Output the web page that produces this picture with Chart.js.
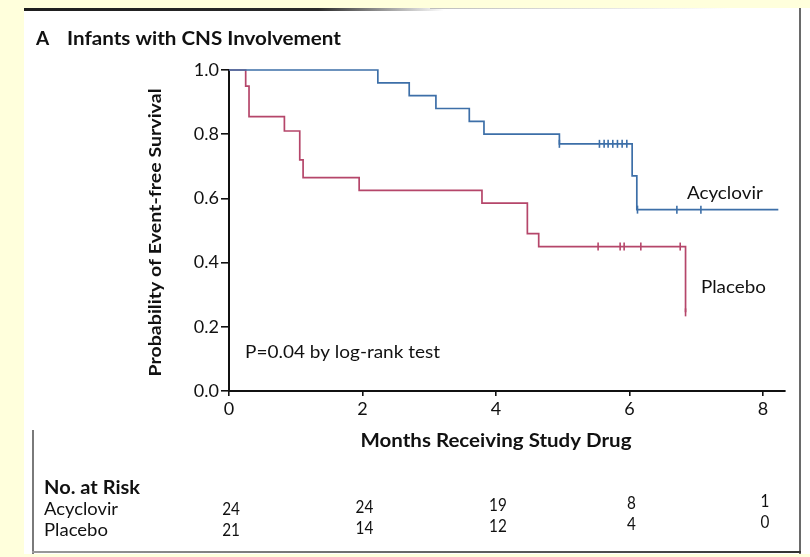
<!DOCTYPE html>
<html>
<head>
<meta charset="utf-8">
<script src="https://cdn.jsdelivr.net/npm/chart.js@4.4.1/dist/chart.umd.min.js"></script>
<style>
  html, body { margin: 0; padding: 0; width: 810px; height: 557px; overflow: hidden; background: #ffffdc; }
  #panel { position: absolute; left: 24px; top: 8px; width: 786px; height: 546px; background: #ffffff; }
  .rule { position: absolute; }
  #wrap { position: absolute; left: 0; top: 0; width: 810px; height: 557px; }
</style>
</head>
<body>
<div id="panel"></div>
<div class="rule" style="left:24px;top:8px;width:420px;height:3px;background:linear-gradient(to right,#1e1e1e 0%,#2a2a2a 70%,rgba(80,80,80,0) 100%)"></div>
<div class="rule" style="left:430px;top:8px;width:300px;height:1px;background:linear-gradient(to right,#bdbdbd,rgba(210,210,210,0))"></div>
<div class="rule" style="left:799px;top:8px;width:2px;height:546px;background:#6a6a6a"></div>
<div class="rule" style="left:32px;top:430px;width:2px;height:124px;background:#7a7a7a"></div>
<div class="rule" style="left:32px;top:551px;width:769px;height:2px;background:linear-gradient(to right,#9a9a9a,#333)"></div>
<div id="wrap"><canvas id="c" width="810" height="557"></canvas></div>

<script>
// Kaplan-Meier estimates: event times (months) and survival after each event
const acycTime = [0, 2.23, 2.70, 3.10, 3.60, 3.82, 4.95, 6.04, 6.11, 8.23];
const acycSurv = [1.0, 0.96, 0.92, 0.88, 0.84, 0.80, 0.77, 0.67, 0.565, 0.565];
const placTime = [0, 0.25, 0.30, 0.83, 1.06, 1.11, 1.95, 3.79, 4.47, 4.64, 6.84];
const placSurv = [1.0, 0.95, 0.855, 0.81, 0.72, 0.665, 0.625, 0.585, 0.49, 0.45, 0.245];

// censored observations (months)
const acycCensor = [4.95, 5.55, 5.62, 5.68, 5.75, 5.82, 5.89, 5.96, 6.12, 6.71, 7.07];
const placCensor = [5.53, 5.86, 5.92, 6.17, 6.76, 6.84];

// axis ticks
const xTicks = [0, 2, 4, 6, 8];
const yTicks = [0, 0.2, 0.4, 0.6, 0.8, 1.0];

// number at risk table
const riskMonths = [0, 2, 4, 6, 8];
const riskAcyc = [24, 24, 19, 8, 1];
const riskPlac = [21, 14, 12, 4, 0];

const BLUE = '#3d6fa8';
const RED = '#b5466a';
const INK = '#111111';
const FONT = 'Lato, "Open Sans", sans-serif';

// survival level of a step curve at time t
function stepValue(times, surv, t) {
  let v = surv[0];
  for (let i = 0; i < times.length; i++) if (times[i] <= t + 1e-9) v = surv[i];
  return v;
}

function curve(times, surv) { return times.map((t, i) => ({ x: t, y: surv[i] })); }
function marks(times, surv, cens) { return cens.map(t => ({ x: t, y: stepValue(times, surv, t) })); }

// text squeezed/stretched to a given advance width
function fitText(ctx, text, x, y, width, font, rot) {
  ctx.save();
  ctx.font = font;
  const w = ctx.measureText(text).width;
  ctx.translate(x, y);
  if (rot) ctx.rotate(rot);
  ctx.scale(width ? width / w : 1, 1);
  ctx.fillText(text, 0, 0);
  ctx.restore();
}

const textPlugin = {
  id: 'texts',
  afterDraw(chart) {
    const { ctx, scales: { x, y } } = chart;
    ctx.save();
    ctx.fillStyle = INK;
    ctx.textBaseline = 'alphabetic';

    // panel heading
    ctx.textAlign = 'left';
    fitText(ctx, 'A', 36, 45, 0, 'bold 19px ' + FONT);
    fitText(ctx, 'Infants with CNS Involvement', 67, 45, 274, 'bold 19px ' + FONT);

    // axis titles
    ctx.textAlign = 'center';
    fitText(ctx, 'Probability of Event-free Survival', 161, (y.top + y.bottom) / 2 + 2, 288, 'bold 17px ' + FONT, -Math.PI / 2);
    fitText(ctx, 'Months Receiving Study Drug', (x.getPixelForValue(0) + x.getPixelForValue(8)) / 2, 447, 271, 'bold 18px ' + FONT);

    // in-plot annotations
    ctx.textAlign = 'left';
    fitText(ctx, 'P=0.04 by log-rank test', x.getPixelForValue(0.24), y.getPixelForValue(0.103), 195, '17px ' + FONT);
    fitText(ctx, 'Acyclovir', x.getPixelForValue(6.86), y.getPixelForValue(0.598), 76, '18px ' + FONT);
    fitText(ctx, 'Placebo', x.getPixelForValue(7.07), y.getPixelForValue(0.305), 65, '18px ' + FONT);

    // number at risk
    fitText(ctx, 'No. at Risk', 44, 494, 96, 'bold 18px ' + FONT);
    fitText(ctx, 'Acyclovir', 44, 515, 74, '17px ' + FONT);
    fitText(ctx, 'Placebo', 44, 536, 64, '17px ' + FONT);
    ctx.textAlign = 'center';
    const x0 = x.getPixelForValue(0);
    riskMonths.forEach((m, i) => {
      const px = x.getPixelForValue(m) + 2;
      const drift = (px - x0) * 0.015;
      ctx.save();
      ctx.translate(px, 0);
      ctx.scale(0.85, 1);
      ctx.font = '18px ' + FONT;
      ctx.fillText(String(riskAcyc[i]), 0, 515 - drift);
      ctx.fillText(String(riskPlac[i]), 0, 536 - drift);
      ctx.restore();
    });
    ctx.restore();
  }
};

const axisCommon = {
  grid: { display: true, drawOnChartArea: false, drawTicks: true, color: '#111111', lineWidth: 1.6 },
  border: { display: true, color: '#111111', width: 2 },
};

document.fonts.ready.then(() => {
  new Chart(document.getElementById('c'), {
    type: 'line',
    data: {
      datasets: [
        { data: curve(acycTime, acycSurv), stepped: 'before', borderColor: BLUE, borderWidth: 1.7, pointRadius: 0, fill: false, clip: 6 },
        { data: curve(placTime, placSurv), stepped: 'before', borderColor: RED, borderWidth: 1.7, pointRadius: 0, fill: false, clip: 6 },
        { data: marks(acycTime, acycSurv, acycCensor), showLine: false, pointStyle: 'line', rotation: 90, pointRadius: 4, borderColor: BLUE, borderWidth: 1.6, clip: 6 },
        { data: marks(placTime, placSurv, placCensor), showLine: false, pointStyle: 'line', rotation: 90, pointRadius: 4, borderColor: RED, borderWidth: 1.6, clip: 6 },
      ]
    },
    options: {
      responsive: false,
      animation: false,
      events: [],
      layout: { padding: { top: 70, right: 25, bottom: 136, left: 0 } },
      plugins: { legend: { display: false }, tooltip: { enabled: false } },
      scales: {
        x: {
          type: 'linear', min: 0, max: 8.33,
          afterBuildTicks: s => { s.ticks = xTicks.map(v => ({ value: v })); },
          afterFit: s => { s.height = 30; },
          grid: { ...axisCommon.grid, tickLength: 5 },
          border: axisCommon.border,
          ticks: { color: INK, font: { family: FONT, size: 18 }, padding: 2, maxRotation: 0, callback: v => String(v) }
        },
        y: {
          type: 'linear', min: 0, max: 1,
          afterBuildTicks: s => { s.ticks = yTicks.map(v => ({ value: v })); },
          afterFit: s => { s.width = 229; },
          grid: { ...axisCommon.grid, tickLength: 8 },
          border: axisCommon.border,
          ticks: { color: INK, font: { family: FONT, size: 18 }, padding: 2, callback: v => Number(v).toFixed(1) }
        }
      }
    },
    plugins: [textPlugin]
  });
});
</script>
</body>
</html>
